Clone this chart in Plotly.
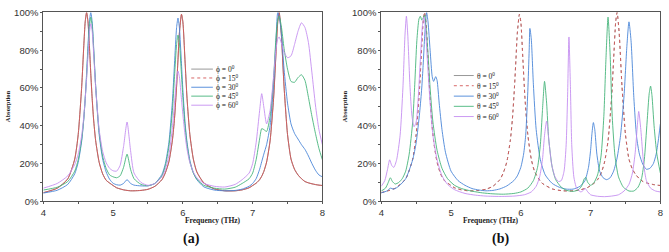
import plotly.graph_objects as go

# ---------------- data : panel (a) ----------------
freq_a = [4.0, 4.2, 4.35, 4.45, 4.5, 4.55, 4.58, 4.6, 4.62, 4.64,
          4.66, 4.68, 4.7, 4.72, 4.75, 4.8, 4.85, 4.9, 4.95, 5.0,
          5.05, 5.1, 5.15, 5.2, 5.25, 5.3, 5.4, 5.5, 5.6, 5.7,
          5.75, 5.8, 5.85, 5.88, 5.91, 5.93, 5.95, 5.98, 6.0, 6.03,
          6.06, 6.1, 6.15, 6.2, 6.3, 6.45, 6.6, 6.75, 6.85, 6.95,
          7.0, 7.05, 7.1, 7.13, 7.16, 7.2, 7.25, 7.3, 7.33, 7.36,
          7.38, 7.41, 7.45, 7.5, 7.55, 7.6, 7.65, 7.7, 7.75, 7.8,
          7.85, 7.9, 7.95, 8.0]

phi15 = [4.6, 7.0, 11.9, 22.4, 35.4, 60.8, 82.4, 95, 100, 95,
         82.4, 67.7, 54.4, 43.6, 32.1, 20.7, 14.6, 11.2, 9.7, 8.4,
         7.2, 6.6, 6.1, 5.8, 5.6, 5.6, 5.8, 6.4, 8.0, 11.5,
         15.2, 21, 32.4, 43.8, 61, 75, 89, 99, 95, 75,
         54.4, 35.4, 22.4, 15.6, 9.8, 6.6, 5.6, 5.6, 6.1, 7.2,
         8.4, 9.6, 11.5, 13.3, 15.8, 20.8, 32, 54.4, 75, 95,
         100, 89, 61, 35.4, 22.4, 17, 14, 12, 10.5, 9.8,
         9.3, 8.9, 8.6, 8.4]
phi0 = phi15  # hidden under the phi = 15 curve

phi30 = [4.4, 5.9, 9.0, 14.6, 20.7, 32, 43.6, 54.4, 67.7, 82.4,
         95, 100, 95, 82.4, 60.8, 35.4, 22.4, 15.6, 11.7, 9.6,
         8.8, 8.6, 9.5, 11.5, 9.5, 8.6, 8.2, 8.2, 9.5, 14.3,
         20.1, 31.2, 52.8, 72.8, 92, 97, 92, 72.8, 59, 42.4,
         31.2, 21.8, 15.2, 11.5, 7.7, 6.0, 5.6, 5.8, 6.5, 8.0,
         9.5, 12, 17, 21, 25, 30, 40, 62, 82, 100,
         98, 90, 70, 52, 41, 36, 33, 30, 27.5, 24,
         20, 16.5, 14, 13]

phi45 = [6.0, 7.5, 10.5, 16, 22, 33, 44, 54, 66, 80,
         92, 97.5, 93, 81, 61, 37, 24, 17.5, 14, 13,
         12.5, 13.5, 18, 25, 17, 12, 9, 8.3, 9.5, 13.5,
         19, 29, 48, 66, 83, 88, 84, 67, 55, 40,
         30, 21, 15, 11.8, 8.5, 7.0, 6.5, 7.5, 9.5, 12,
         15, 22, 33, 38.5, 38, 37, 45, 65, 84, 96,
         98, 93, 81, 70, 63.5, 63, 65.5, 67, 64, 55,
         45, 36, 28, 22]

phi60 = [7.0, 9.5, 13.5, 19.5, 25, 35, 45, 54, 65, 77,
         89, 94, 90, 79, 60, 38, 26.5, 20.5, 17.5, 16.2,
         16, 19, 29, 42, 27, 15, 10, 8.5, 9.5, 13,
         17, 24.5, 39, 52, 65, 69, 66, 54, 46, 35.5,
         27.5, 20.5, 15.5, 12.5, 9.5, 8, 7.6, 9, 11.5, 15,
         20, 31, 48, 57, 50, 41, 48, 66, 79, 86,
         87, 84, 79, 76, 77, 83, 90, 94.5, 92, 84,
         68, 51, 38, 30]

# ---------------- data : panel (b) ----------------
freq_b_15 = freq_a
theta15 = phi15
theta0 = phi15  # hidden under the theta = 15 curve

freq_b_30 = [4.0, 4.08, 4.13, 4.18, 4.25, 4.35, 4.45, 4.5, 4.55, 4.58,
             4.6, 4.62, 4.64, 4.65, 4.67, 4.7, 4.73, 4.75, 4.78, 4.8,
             4.83, 4.87, 4.92, 5.0, 5.1, 5.2, 5.3, 5.4, 5.5, 5.6,
             5.7, 5.8, 5.9, 5.95, 6.0, 6.04, 6.07, 6.1, 6.12, 6.13,
             6.15, 6.18, 6.22, 6.28, 6.35, 6.45, 6.55, 6.65, 6.75, 6.85,
             6.92, 6.97, 7.0, 7.02, 7.04, 7.06, 7.09, 7.13, 7.18, 7.23,
             7.28, 7.33, 7.38, 7.43, 7.48, 7.52, 7.55, 7.58, 7.62, 7.66,
             7.7, 7.75, 7.8, 7.85, 7.9, 7.94, 7.97, 8.0]
theta30 = [4.5, 5.5, 7.0, 6.5, 8, 12, 22, 31, 47, 60,
           72, 86, 97, 100, 95, 80, 66, 63.5, 66, 64,
           52, 38, 26, 16, 11, 8.5, 6.8, 6.0, 5.6, 5.8,
           6.6, 8.2, 11, 13.5, 18, 25, 35, 58, 80, 91.5,
           86, 62, 38, 22, 14, 9.5, 7.5, 6.5, 6.5, 8,
           11, 18, 27, 36, 41.7, 38, 25, 16, 12.5, 11.5,
           12.5, 16, 23, 35, 56, 82, 95, 85, 55, 34,
           25, 19.5, 17, 17.5, 20, 25, 32, 41]

freq_b_45 = [4.0, 4.06, 4.1, 4.13, 4.16, 4.2, 4.25, 4.3, 4.35, 4.4,
             4.45, 4.48, 4.51, 4.54, 4.56, 4.58, 4.6, 4.62, 4.64, 4.67,
             4.7, 4.74, 4.8, 4.87, 4.95, 5.05, 5.15, 5.3, 5.45, 5.6,
             5.75, 5.9, 6.0, 6.1, 6.18, 6.24, 6.28, 6.31, 6.34, 6.37,
             6.4, 6.45, 6.5, 6.58, 6.66, 6.75, 6.82, 6.87, 6.91, 6.93,
             6.96, 7.0, 7.05, 7.1, 7.15, 7.19, 7.22, 7.25, 7.28, 7.31,
             7.35, 7.4, 7.47, 7.55, 7.62, 7.68, 7.73, 7.77, 7.81, 7.84,
             7.86, 7.88, 7.91, 7.95, 8.0]
theta45 = [5.5, 7, 10, 12.5, 10.5, 9.2, 10, 12, 16, 25,
           42, 62, 85, 96.5, 98, 96, 97, 98.5, 93, 78,
           60, 42, 27, 17.5, 12, 8.5, 6.8, 5.4, 4.5, 4.0,
           3.8, 4.2, 5.0, 7, 11, 18, 30, 48, 63.5, 52,
           33, 18, 11.5, 7.5, 5.8, 5.3, 6, 8, 12, 12.7,
           10, 8.5, 10, 14, 24, 45, 75, 97.5, 78, 45,
           24, 13, 7.5, 5.5, 5.5, 7.5, 12, 22, 42, 57,
           61, 56, 40, 25, 15]

freq_b_60 = [4.0, 4.05, 4.09, 4.12, 4.15, 4.18, 4.22, 4.27, 4.31, 4.34,
             4.36, 4.38, 4.41, 4.44, 4.47, 4.5, 4.53, 4.56, 4.59, 4.61,
             4.63, 4.66, 4.7, 4.74, 4.8, 4.87, 4.95, 5.05, 5.2, 5.35,
             5.5, 5.7, 5.9, 6.05, 6.15, 6.22, 6.27, 6.31, 6.34, 6.37,
             6.4, 6.44, 6.49, 6.54, 6.58, 6.62, 6.65, 6.67, 6.69, 6.71,
             6.73, 6.76, 6.8, 6.86, 6.9, 6.92, 6.95, 7.0, 7.1, 7.2,
             7.3, 7.4, 7.48, 7.55, 7.6, 7.64, 7.67, 7.69, 7.72, 7.76,
             7.8, 7.86, 7.93, 8.0]
theta60 = [8, 11, 17, 22, 19, 18, 22, 35, 60, 88,
           98, 88, 62, 45, 39.5, 42, 55, 75, 93, 97.5,
           93, 75, 52, 35, 22, 13.5, 9, 6.2, 4.2, 3.3,
           2.8, 2.6, 2.8, 3.5, 5, 8, 13, 22, 35, 42.5,
           33, 20, 13, 10.5, 11, 16, 30, 55, 87, 62,
           30, 13, 7, 5, 6, 7, 5.5, 3.5, 2.7, 2.5,
           2.8, 3.5, 5.5, 9, 15, 26, 40, 47.6, 38, 20,
           11, 7, 5.5, 5]

labels_a = ["\u03d5 = 0<sup>0</sup>", "\u03d5 = 15<sup>0</sup>", "\u03d5 = 30<sup>0</sup>",
            "\u03d5 = 45<sup>0</sup>", "\u03d5 = 60<sup>0</sup>"]
labels_b = ["\u03b8 = 0<sup>0</sup>", "\u03b8 = 15<sup>0</sup>", "\u03b8 = 30<sup>0</sup>",
            "\u03b8 = 45<sup>0</sup>", "\u03b8 = 60<sup>0</sup>"]
y_ticks = [0, 20, 40, 60, 80, 100]
y_ticktext = ["0%", "20%", "40%", "60%", "80%", "100%"]
x_ticks = [4, 5, 6, 7, 8]

# ---------------- styling ----------------
C_GRAY = "#8c8c8c"
C_RED = "#d25656"
C_BLUE = "#4a86d8"
C_GREEN = "#46b47a"
C_PURP = "#c58ef0"
colors = [C_GRAY, C_RED, C_BLUE, C_GREEN, C_PURP]

fig = go.Figure()


def add(x, y, color, dash, xa, ya):
    fig.add_trace(go.Scatter(
        x=x, y=y, mode="lines", xaxis=xa, yaxis=ya, showlegend=False,
        hoverinfo="skip",
        line=dict(color=color, width=0.9, dash=dash, shape="spline", smoothing=0.6)))


series_a = [(freq_a, phi0), (freq_a, phi15), (freq_a, phi30), (freq_a, phi45), (freq_a, phi60)]
series_b = [(freq_a, theta0), (freq_b_15, theta15), (freq_b_30, theta30),
            (freq_b_45, theta45), (freq_b_60, theta60)]
dash_a = ["solid", "solid", "solid", "solid", "solid"]
dash_b = ["dot", "dot", "solid", "solid", "solid"]

for (x, y), c, d in zip(series_a, colors, dash_a):
    add(x, y, c, d, "x", "y")
for (x, y), c, d in zip(series_b, colors, dash_b):
    add(x, y, c, d, "x2", "y2")

W, H = 669, 252
tickfont = dict(family="Liberation Sans, Arial, sans-serif", size=9.5, color="#333")
axis_common = dict(showline=True, mirror=True, linecolor="#555", linewidth=1,
                   showgrid=False, zeroline=False, ticks="outside", ticklen=2,
                   tickcolor="#555", tickfont=tickfont)
xminor = dict(dtick=0.5, ticks="outside", ticklen=2, tickcolor="#555")
yminor = dict(dtick=10, ticks="outside", ticklen=2, tickcolor="#555")

ydom = [1 - 204.3 / H, 1 - 6.7 / H]
fig.update_layout(
    width=W, height=H, margin=dict(l=0, r=0, t=0, b=0),
    paper_bgcolor="white", plot_bgcolor="white",
    xaxis=dict(domain=[40.7 / W, 322.3 / W], range=[4, 8], anchor="y",
               tickvals=x_ticks, minor=xminor, **axis_common),
    yaxis=dict(domain=ydom, range=[0, 100], anchor="x", tickvals=y_ticks, ticktext=y_ticktext,
               minor=yminor, **axis_common),
    xaxis2=dict(domain=[381.7 / W, 663.3 / W], range=[4, 8], anchor="y2",
                tickvals=x_ticks, minor=xminor, **axis_common),
    yaxis2=dict(domain=ydom, range=[0, 100], anchor="x2", tickvals=y_ticks, ticktext=y_ticktext,
                minor=yminor, **axis_common),
)

serif = "Liberation Serif, Times New Roman, DejaVu Serif, serif"
ann = []
shapes = []
# axis titles & panel labels
for xc, lab, xl in [((40.7 + 322.3) / 2 / W, "(a)", 179.5 / W), ((381.7 + 663.3) / 2 / W, "(b)", 512.5 / W)]:
    ann.append(dict(x=xc, y=1 - 224.7 / H, xref="paper", yref="paper", showarrow=False,
                    yanchor="middle", text="<b>Frequency (THz)</b>",
                    font=dict(family=serif, size=7.5, color="#222")))
    ann.append(dict(x=xl, y=1 - 243.5 / H, xref="paper", yref="paper", showarrow=False,
                    yanchor="middle", text="<b>" + lab + "</b>",
                    font=dict(family=serif, size=14, color="#111")))
for xp in [5.3 / W, 345.5 / W]:
    ann.append(dict(x=xp, y=1 - 104.5 / H, xref="paper", yref="paper", showarrow=False,
                    xanchor="center", yanchor="middle",
                    textangle=-90, text="<b>Absorption</b>",
                    font=dict(family=serif, size=6.5, color="#222")))

# legends
leg_a_rows = [70.0, 65.3, 60.4, 55.7, 50.9]
leg_b_rows = [66.6, 61.2, 55.7, 50.3, 44.9]
leg_dash_a = ["solid", "dot", "solid", "solid", "solid"]
leg_dash_b = ["solid", "dot", "solid", "solid", "solid"]
for xr, yr, rows, labels, x0, x1, xt, dashes in [
        ("x", "y", leg_a_rows, labels_a, 6.12, 6.43, 6.45, leg_dash_a),
        ("x2", "y2", leg_b_rows, labels_b, 5.04, 5.325, 5.345, leg_dash_b)]:
    for r, lab, c, d in zip(rows, labels, colors, dashes):
        shapes.append(dict(type="line", xref=xr, yref=yr, x0=x0, x1=x1, y0=r, y1=r,
                           line=dict(color=c, width=0.9, dash=d)))
        ann.append(dict(x=xt, y=r, xref=xr, yref=yr, showarrow=False, xanchor="left",
                        yanchor="middle", text=lab,
                        font=dict(family=serif, size=7.5, color="#222")))

fig.update_layout(annotations=ann, shapes=shapes)
fig.write_html("out.html")
